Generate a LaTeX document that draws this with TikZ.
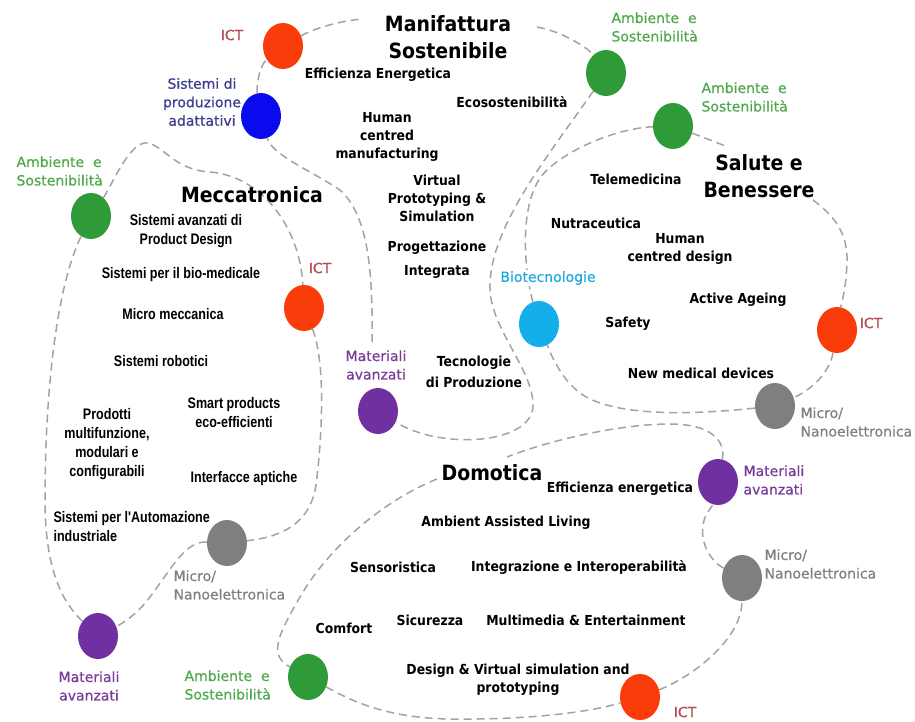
\documentclass[tikz,border=0pt]{standalone}
\usepackage{fontspec}
\usepackage{tikz}
\usetikzlibrary{shapes.geometric}
\setmainfont{DejaVu Sans}
\newfontfamily\tagfont[FakeBold=0.5]{DejaVu Sans}
\newfontfamily\condfont{DejaVu Sans Condensed}
\newfontfamily\narrowfont[FakeStretch=0.82]{Liberation Sans}

\definecolor{dotred}{HTML}{FA3C0A}
\definecolor{dotblue}{HTML}{0A0AEE}
\definecolor{dotgreen}{HTML}{2F9A38}
\definecolor{dotcyan}{HTML}{14AEEA}
\definecolor{dotpurple}{HTML}{7030A0}
\definecolor{dotgray}{HTML}{7F7F7F}
\definecolor{tagred}{HTML}{B84A55}
\definecolor{tagblue}{HTML}{3D3D8F}
\definecolor{taggreen}{HTML}{4FA84A}
\definecolor{tagcyan}{HTML}{1EA8DC}
\definecolor{tagpurple}{HTML}{7A3C9A}
\definecolor{taggray}{HTML}{808080}
\definecolor{linegray}{HTML}{A3A3A3}

\begin{document}
\begin{tikzpicture}[x=1pt,y=-1pt,
  spot/.style={ellipse,minimum width=40pt,minimum height=46pt,inner sep=0pt},
  link/.style={draw=linegray,line width=1.5pt,dash pattern=on 8pt off 5pt},
  topic/.style={font=\condfont\bfseries\fontsize{21}{27}\selectfont,align=center},
  item/.style={font=\condfont\bfseries\fontsize{13.8}{18}\selectfont,align=center},
  mitem/.style={font=\narrowfont\bfseries\fontsize{15.3}{19}\selectfont,align=center},
  tag/.style={font=\tagfont\fontsize{14}{18.5}\selectfont,align=center}]
\useasboundingbox[fill=white] (0,0) rectangle (915,721);

\node[spot, fill=dotred] (ict1) at (283,46) {};
\node[spot, fill=dotblue] (sis) at (261,116) {};
\node[spot, fill=dotgreen] (amb1) at (606,73) {};
\node[spot, fill=dotgreen] (amb2) at (673,126) {};
\node[spot, fill=dotgreen] (amb3) at (91,216) {};
\node[spot, fill=dotred] (ict2) at (304,308) {};
\node[spot, fill=dotcyan] (bio) at (539,324) {};
\node[spot, fill=dotred] (ict3) at (837,330) {};
\node[spot, fill=dotpurple] (mat1) at (378,411) {};
\node[spot, fill=dotgray] (gray3) at (775,406) {};
\node[spot, fill=dotpurple] (mat4) at (718,482) {};
\node[spot, fill=dotgray] (gray2) at (227,543) {};
\node[spot, fill=dotgray] (gray4) at (742,578) {};
\node[spot, fill=dotpurple] (mat3) at (98,636) {};
\node[spot, fill=dotgreen] (amb4) at (308,677) {};
\node[spot, fill=dotred] (ict4) at (640,697) {};

\coordinate (m1) at (362,19);
\coordinate (m2) at (537,27);
\coordinate (m3) at (372,342);
\coordinate (s1) at (728,147);
\coordinate (s2) at (813,200);
\coordinate (d1) at (437,479);
\coordinate (d2) at (507,457);

\path[link] (ict1) .. controls (315,28) and (340,21) .. (m1);
\path[link] (m2) .. controls (565,32) and (590,50) .. (amb1);
\path[link] (amb1) .. controls (545,160) and (488,230) .. (490,290) .. controls (492,330) and (533,370) .. (533,405) .. controls (533,445) and (440,450) .. (mat1);
\path[link] (m3) .. controls (373,270) and (368,215) .. (340,190) .. controls (310,170) and (272,155) .. (sis);
\path[link] (sis) .. controls (256,85) and (260,65) .. (ict1);

\path[link] (amb3) .. controls (112,185) and (130,140) .. (148,143) .. controls (165,147) and (175,170) .. (210,172) .. controls (262,176) and (300,228) .. (ict2);
\path[link] (ict2) .. controls (325,360) and (323,430) .. (316,485) .. controls (310,525) and (280,537) .. (gray2);
\path[link] (gray2) .. controls (185,541) and (172,568) .. (150,597) .. controls (138,613) and (125,622) .. (mat3);
\path[link] (mat3) .. controls (60,600) and (45,565) .. (45,500) .. controls (45,400) and (55,290) .. (amb3);

\path[link] (amb2) .. controls (705,138) .. (s1);
\path[link] (s2) .. controls (833,215) and (848,232) .. (847,262) .. controls (846,290) and (842,300) .. (ict3);
\path[link] (ict3) .. controls (830,370) and (815,388) .. (gray3);
\path[link] (gray3) .. controls (680,416) and (610,415) .. (580,393) .. controls (563,380) and (553,360) .. (bio);
\path[link] (bio) .. controls (524,270) and (518,200) .. (545,172) .. controls (570,147) and (620,128) .. (amb2);

\path[link] (d1) .. controls (385,500) and (330,545) .. (300,597) .. controls (278,635) and (268,655) .. (amb4);
\path[link] (amb4) .. controls (350,700) and (385,718) .. (450,719) .. controls (530,720) and (590,712) .. (ict4);
\path[link] (ict4) .. controls (690,678) and (742,640) .. (gray4);
\path[link] (gray4) .. controls (712,562) and (700,545) .. (703,525) .. controls (705,512) and (712,508) .. (mat4);
\path[link] (mat4) .. controls (726,440) and (710,424) .. (670,424) .. controls (620,424) and (550,440) .. (d2);

\node[topic] (mani) at (448,37) {Manifattura\\Sostenibile};
\node[topic] (mecc) at (252,195) {Meccatronica};
\node[topic] (salu) at (759,176) {Salute e\\Benessere};
\node[topic] (domo) at (492,473) {Domotica};

\node[tag, color=tagred] (lict1) at (232,35) {ICT};
\node[tag, color=tagblue] (lsis) at (202,102) {Sistemi di\\produzione\\adattativi};
\node[tag, color=taggreen, anchor=west, align=left] (lamb1) at (608,27) {Ambiente\ \ e\\Sostenibilità};
\node[tag, color=taggreen, anchor=west, align=left] (lamb2) at (698,97) {Ambiente\ \ e\\Sostenibilità};
\node[tag, color=taggreen, anchor=west, align=left] (lamb3) at (13,171) {Ambiente\ \ e\\Sostenibilità};
\node[tag, color=tagred] (lict2) at (320,268) {ICT};
\node[tag, color=tagcyan, fill=white, inner sep=1pt] (lbio) at (548,278) {Biotecnologie};
\node[tag, color=tagred] (lict3) at (871,323) {ICT};
\node[tag, color=tagpurple] (lmat1) at (376,365) {Materiali\\avanzati};
\node[tag, color=taggray, anchor=west, align=left] (lgray3) at (797,422) {Micro/\\Nanoelettronica};
\node[tag, color=tagpurple, anchor=west, align=left] (lmat4) at (740,480) {Materiali\\avanzati};
\node[tag, color=taggray, anchor=west, align=left] (lgray2) at (170,585) {Micro/\\Nanoelettronica};
\node[tag, color=taggray, anchor=west, align=left] (lgray4) at (761,564) {Micro/\\Nanoelettronica};
\node[tag, color=tagpurple] (lmat3) at (89,686) {Materiali\\avanzati};
\node[tag, color=taggreen, anchor=west, align=left] (lamb4) at (181,685) {Ambiente\ \ e\\Sostenibilità};
\node[tag, color=tagred] (lict4) at (685,712) {ICT};

\node[item] (effen) at (378,75) {Efficienza Energetica};
\node[item] (ecos) at (512,102) {Ecosostenibilità};
\node[item] (hcm) at (387,137) {Human\\centred\\manufacturing};
\node[item] (vps) at (437,198) {Virtual\\Prototyping \&\\Simulation};
\node[item, font=\condfont\bfseries\fontsize{13.8}{24}\selectfont] (prog) at (437,260) {Progettazione\\Integrata};
\node[item, font=\condfont\bfseries\fontsize{13.8}{21}\selectfont] (tecn) at (474,372) {Tecnologie\\di Produzione};

\node[mitem] (spd) at (186,231) {Sistemi avanzati di\\Product Design};
\node[mitem] (sbio) at (181,275) {Sistemi per il bio-medicale};
\node[mitem] (mmec) at (173,314) {Micro meccanica};
\node[mitem] (srob) at (161,361) {Sistemi robotici};
\node[mitem] (prod) at (107,444) {Prodotti\\multifunzione,\\modulari e\\configurabili};
\node[mitem] (smart) at (234,413) {Smart products\\eco-efficienti};
\node[mitem] (inta) at (244,479) {Interfacce aptiche};
\node[mitem, anchor=west, align=left] (saut) at (50,527) {Sistemi per l'Automazione\\industriale};

\node[item] (tele) at (636,179) {Telemedicina};
\node[item] (nutr) at (596,223) {Nutraceutica};
\node[item] (hcd) at (680,249) {Human\\centred design};
\node[item] (aage) at (738,300) {Active Ageing};
\node[item] (safe) at (628,324) {Safety};
\node[item] (nmd) at (701,373) {New medical devices};

\node[item] (effd) at (620,489) {Efficienza energetica};
\node[item] (aal) at (506,523) {Ambient Assisted Living};
\node[item] (sens) at (393,567) {Sensoristica};
\node[item] (inte) at (579,567) {Integrazione e Interoperabilità};
\node[item] (comf) at (344,628) {Comfort};
\node[item] (sicu) at (430,620) {Sicurezza};
\node[item] (mult) at (586,620) {Multimedia \& Entertainment};
\node[item] (dvs) at (518,680) {Design \& Virtual simulation and\\prototyping};
\end{tikzpicture}
\end{document}
